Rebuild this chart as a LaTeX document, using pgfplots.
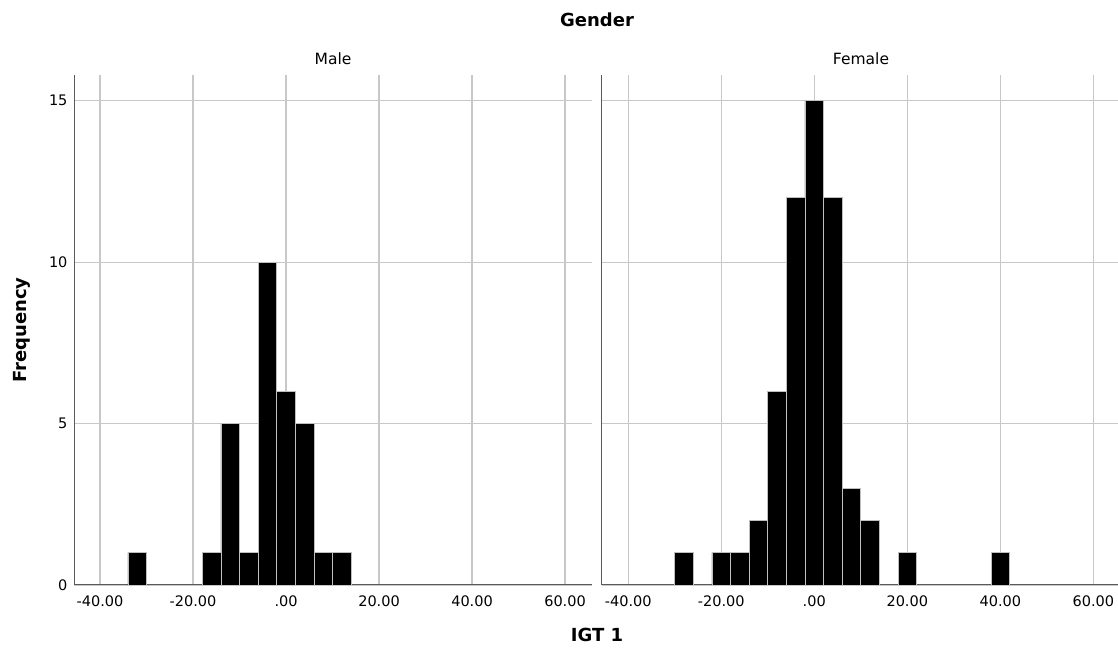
\documentclass[border=0pt]{standalone}
\usepackage{fontspec}
\setmainfont{DejaVu Sans}
\usepackage{pgfplots}
\pgfplotsset{compat=1.18}
\definecolor{gridc}{RGB}{200,200,200}
\definecolor{axc}{RGB}{90,90,90}
\definecolor{edgec}{RGB}{190,190,190}
\pgfplotsset{
  panel/.style={
    scale only axis,
    anchor=south west,
    height=510pt,
    ymin=0, ymax=15.8,
    axis x line*=bottom, axis y line*=left,
    axis line style={-, draw=axc, line width=1pt},
    major tick length=0pt,
    grid=major,
    major grid style={draw=gridc, line width=1.1pt},
    xtick={-40,-20,0,20,40,60},
    xticklabels={-40.00,-20.00,.00,20.00,40.00,60.00},
    ytick={0,5,10,15},
    /pgf/number format/assume math mode=true,
    tick label style={font=\fontsize{14.5}{16}\selectfont},
    xticklabel style={yshift=-7pt},
    yticklabel style={xshift=-3pt},
    ybar, bar width=4, bar shift=0pt,
  },
  barstyle/.style={fill=black, draw=edgec, line width=0.7pt},
}
\begin{document}
\begin{tikzpicture}
\path[use as bounding box] (0,0) rectangle (1118pt,652pt);
\begin{axis}[panel, at={(74pt,67pt)}, width=518pt, xmin=-45.6, xmax=65.8,
  yticklabels={0,5,10,15}]
\addplot[barstyle] coordinates {(-32,1) (-16,1) (-12,5) (-8,1) (-4,10) (0,6) (4,5) (8,1) (12,1)};
\end{axis}
\begin{axis}[panel, at={(601.7pt,67pt)}, width=516.3pt, xmin=-45.7, xmax=65.3,
  yticklabels={}]
\addplot[barstyle] coordinates {(-28,1) (-20,1) (-16,1) (-12,2) (-8,6) (-4,12) (0,15) (4,12) (8,3) (12,2) (20,1) (40,1)};
\end{axis}
\node[font=\bfseries\fontsize{18}{20}\selectfont] at (597pt,632pt) {Gender};
\node[font=\fontsize{15.5}{17}\selectfont] at (333pt,593pt) {Male};
\node[font=\fontsize{15.5}{17}\selectfont] at (861pt,593pt) {Female};
\node[font=\bfseries\fontsize{18}{20}\selectfont, rotate=90] at (22pt,322pt) {Frequency};
\node[font=\bfseries\fontsize{18}{20}\selectfont] at (597pt,17pt) {IGT 1};
\end{tikzpicture}
\end{document}
